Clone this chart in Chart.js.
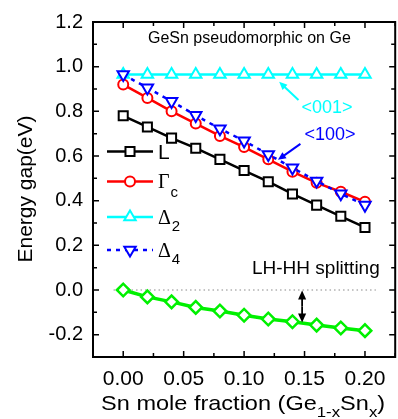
<!DOCTYPE html>
<html>
<head>
<meta charset="utf-8">
<script src="https://cdn.jsdelivr.net/npm/chart.js@4.4.1/dist/chart.umd.min.js"></script>
<style>
  html, body { margin: 0; padding: 0; background: #fff; overflow: hidden; }
  #wrap { width: 404px; height: 419px; position: relative; }
</style>
</head>
<body>
<div id="wrap"><canvas id="chart-gap"></canvas></div>
<script>
// ---- data ----
const snFraction = [0, 0.02, 0.04, 0.06, 0.08, 0.10, 0.12, 0.14, 0.16, 0.18, 0.20];
const gapL      = [0.78, 0.73, 0.68, 0.635, 0.585, 0.535, 0.485, 0.43, 0.38, 0.33, 0.28];
const gapGamma  = [0.92, 0.86, 0.80, 0.745, 0.69, 0.64, 0.585, 0.53, 0.48, 0.44, 0.395];
const gapDelta2 = [0.965, 0.965, 0.965, 0.965, 0.965, 0.965, 0.965, 0.965, 0.965, 0.965, 0.965];
const gapDelta4 = [0.965, 0.905, 0.845, 0.782, 0.722, 0.668, 0.607, 0.547, 0.488, 0.431, 0.38];
const lhHhSplit = [0.0, -0.031, -0.053, -0.078, -0.094, -0.113, -0.13, -0.142, -0.157, -0.17, -0.182];
const xTickValues = [0, 0.05, 0.10, 0.15, 0.20];
const yTickValues = [-0.2, 0, 0.2, 0.4, 0.6, 0.8, 1.0, 1.2];

const pts = arr => arr.map((v, i) => ({ x: snFraction[i], y: v }));

const SERIES = [
  { label: 'L', data: gapL, color: '#000000', style: 'rect', radius: 6.4, rot: 0, dash: [], order: 4, lw: 2.5 },
  { label: 'Gc', data: gapGamma, color: '#ff0000', style: 'circle', radius: 5, rot: 0, dash: [], order: 3, lw: 2.5 },
  { label: 'D2', data: gapDelta2, color: '#00ffff', style: 'triangle', radius: 6.6, rot: 0, dash: [], order: 2, lw: 2.5 },
  { label: 'D4', data: gapDelta4, color: '#0000ff', style: 'triangle', radius: 6.6, rot: 180, dash: [4, 5], order: 1, lw: 2.5 },
  { label: 'LH-HH', data: lhHhSplit, color: '#00f000', style: 'rectRot', radius: 6.3, rot: 0, dash: [], order: 5, lw: 3.5 },
];

const datasets = SERIES.map(s => ({
  label: s.label,
  data: pts(s.data),
  borderColor: s.color,
  backgroundColor: '#ffffff',
  borderWidth: s.lw,
  borderDash: s.dash,
  pointStyle: s.style,
  pointRotation: s.rot,
  pointRadius: s.radius,
  pointBorderWidth: s.label === 'LH-HH' ? 2.5 : 2,
  pointBackgroundColor: '#ffffff',
  pointBorderColor: s.color,
  tension: 0,
  order: s.order,
}));

function arrow(ctx, x1, y1, x2, y2, color, head, width) {
  const a = Math.atan2(y2 - y1, x2 - x1);
  ctx.save();
  ctx.strokeStyle = color; ctx.fillStyle = color; ctx.lineWidth = width;
  ctx.beginPath();
  ctx.moveTo(x1, y1);
  ctx.lineTo(x2 - Math.cos(a) * head * 0.8, y2 - Math.sin(a) * head * 0.8);
  ctx.stroke();
  ctx.beginPath();
  ctx.moveTo(x2, y2);
  ctx.lineTo(x2 - head * Math.cos(a) + head * 0.45 * Math.sin(a), y2 - head * Math.sin(a) - head * 0.45 * Math.cos(a));
  ctx.lineTo(x2 - head * Math.cos(a) - head * 0.45 * Math.sin(a), y2 - head * Math.sin(a) + head * 0.45 * Math.cos(a));
  ctx.closePath();
  ctx.fill();
  ctx.restore();
}

// dotted zero reference line, drawn under the data
const zeroLinePlugin = {
  id: 'zeroLine',
  beforeDatasetsDraw(chart) {
    const { ctx, scales: { x, y } } = chart;
    const py = y.getPixelForValue(0);
    ctx.save();
    ctx.strokeStyle = '#888';
    ctx.lineWidth = 1;
    ctx.setLineDash([1.5, 3]);
    ctx.beginPath();
    ctx.moveTo(x.getPixelForValue(-0.008), py);
    ctx.lineTo(x.getPixelForValue(0.209), py);
    ctx.stroke();
    ctx.restore();
  },
};

const SANS = 'Arial, "Liberation Sans"';

// frame, inward ticks, titles, legend, annotations
const framePlugin = {
  id: 'frame',
  afterDatasetsDraw(chart) {
    const { ctx, chartArea: ca, scales: { x, y } } = chart;
    ctx.save();
    ctx.strokeStyle = '#000';
    ctx.lineWidth = 2;
    ctx.setLineDash([]);
    ctx.strokeRect(ca.left, ca.top, ca.right - ca.left, ca.bottom - ca.top);

    ctx.lineWidth = 1.5;
    ctx.beginPath();
    for (let v = -0.025; v <= 0.2251; v += 0.025) {
      const px = x.getPixelForValue(v);
      const major = Math.abs(Math.round(v / 0.05) * 0.05 - v) < 1e-6;
      const len = major ? 6 : 4;
      ctx.moveTo(px, ca.bottom); ctx.lineTo(px, ca.bottom - len);
      ctx.moveTo(px, ca.top); ctx.lineTo(px, ca.top + len);
    }
    for (let v = -0.3; v <= 1.2001; v += 0.1) {
      const py = y.getPixelForValue(v);
      const major = Math.abs(Math.round(v / 0.2) * 0.2 - v) < 1e-6;
      const len = major ? 6 : 4;
      ctx.moveTo(ca.left, py); ctx.lineTo(ca.left + len, py);
      ctx.moveTo(ca.right, py); ctx.lineTo(ca.right - len, py);
    }
    ctx.stroke();

    // x axis title (glyphs in the original are a little wide)
    ctx.fillStyle = '#000';
    ctx.textBaseline = 'alphabetic';
    const parts = [
      ['Sn mole fraction (Ge', false], ['1-x', true], ['Sn', false], ['x', true], [')', false],
    ];
    const mainFont = '21px ' + SANS, subFont = '15px ' + SANS;
    let total = 0;
    parts.forEach(p => { ctx.font = p[1] ? subFont : mainFont; p.push(ctx.measureText(p[0]).width); total += p[2]; });
    const stretch = 1.12;
    ctx.save();
    ctx.translate((ca.left + ca.right) / 2 - 1, 410);
    ctx.scale(stretch, 1);
    let tx = -total / 2;
    ctx.textAlign = 'left';
    parts.forEach(p => {
      ctx.font = p[1] ? subFont : mainFont;
      ctx.fillText(p[0], tx, p[1] ? 7 : 0);
      tx += p[2];
    });
    ctx.restore();

    ctx.save();
    ctx.translate(32, 189);
    ctx.rotate(-Math.PI / 2);
    ctx.textAlign = 'center';
    ctx.font = mainFont;
    ctx.fillText('Energy gap(eV)', 0, 0);
    ctx.restore();

    // annotations
    ctx.textAlign = 'left';
    ctx.font = '16px ' + SANS;
    ctx.fillText('GeSn pseudomorphic on Ge', 148, 43);
    ctx.font = '19px ' + SANS;
    ctx.fillText('LH-HH splitting', 252, 274);
    ctx.textAlign = 'center';
    ctx.font = '18px ' + SANS;
    ctx.fillStyle = '#00ffff';
    ctx.fillText('<001>', 327, 113);
    ctx.fillStyle = '#0000ff';
    ctx.fillText('<100>', 330, 140);

    arrow(ctx, x.getPixelForValue(0.145), y.getPixelForValue(0.851), x.getPixelForValue(0.129), y.getPixelForValue(0.932), '#00ffff', 8, 2);
    arrow(ctx, x.getPixelForValue(0.1466), y.getPixelForValue(0.654), x.getPixelForValue(0.128), y.getPixelForValue(0.583), '#0000ff', 8, 2);
    const ax = x.getPixelForValue(0.148);
    const aTop = y.getPixelForValue(-0.002), aBot = y.getPixelForValue(-0.145);
    const aMid = (aTop + aBot) / 2;
    arrow(ctx, ax, aMid, ax, aTop, '#000', 9, 1.8);
    arrow(ctx, ax, aMid, ax, aBot, '#000', 9, 1.8);

    // legend
    const rows = [151.5, 181.5, 217, 250];
    const draw = Chart.helpers && Chart.helpers.drawPoint;
    SERIES.slice(0, 4).forEach((s, i) => {
      const ry = rows[i];
      ctx.save();
      ctx.strokeStyle = s.color;
      ctx.lineWidth = 2.5;
      ctx.setLineDash(s.dash);
      ctx.beginPath();
      ctx.moveTo(107, ry); ctx.lineTo(153, ry);
      ctx.stroke();
      ctx.setLineDash([]);
      ctx.fillStyle = '#fff';
      ctx.lineWidth = 2;
      if (draw) draw(ctx, { pointStyle: s.style, rotation: s.rot, radius: s.radius, borderWidth: 2 }, 130, ry);
      ctx.restore();
    });
    ctx.fillStyle = '#000';
    ctx.textAlign = 'left';
    ctx.font = '21px ' + SANS;
    ctx.fillText('L', 158, 159);
    const greek = [['\u0393', 'c', 187.5, 9], ['\u0394', '2', 223.5, 7.5], ['\u0394', '4', 257, 6.5]];
    greek.forEach(g => {
      ctx.font = '20px "Liberation Serif", "Times New Roman", serif';
      ctx.fillText(g[0], 158, g[2]);
      const gw = ctx.measureText(g[0]).width;
      ctx.font = '15px ' + SANS;
      ctx.fillText(g[1], 158 + gw + 1, g[2] + g[3]);
    });
    ctx.restore();
  },
};

new Chart(document.getElementById('chart-gap'), {
  type: 'line',
  data: { datasets },
  options: {
    responsive: true,
    maintainAspectRatio: false,
    animation: false,
    layout: { padding: { top: 16, right: 3, left: 0, bottom: 0 } },
    plugins: { legend: { display: false }, tooltip: { enabled: false } },
    scales: {
      x: {
        type: 'linear',
        min: -0.025,
        max: 0.225,
        afterBuildTicks: sc => { sc.ticks = xTickValues.map(v => ({ value: v })); },
        afterFit: sc => { sc.height = 62; },
        grid: { display: false, drawTicks: false },
        border: { display: false },
        ticks: {
          color: '#000',
          padding: 10,
          maxRotation: 0,
          font: { family: SANS, size: 21 },
          callback: v => v.toFixed(2),
        },
      },
      y: {
        min: -0.3,
        max: 1.2,
        afterBuildTicks: sc => { sc.ticks = yTickValues.map(v => ({ value: v })); },
        afterFit: sc => { sc.width = 93; },
        grid: { display: false, drawTicks: false },
        border: { display: false },
        ticks: {
          color: '#000',
          padding: 10,
          font: { family: SANS, size: 20 },
          callback: v => v.toFixed(1),
        },
      },
    },
  },
  plugins: [zeroLinePlugin, framePlugin],
});
</script>
</body>
</html>
